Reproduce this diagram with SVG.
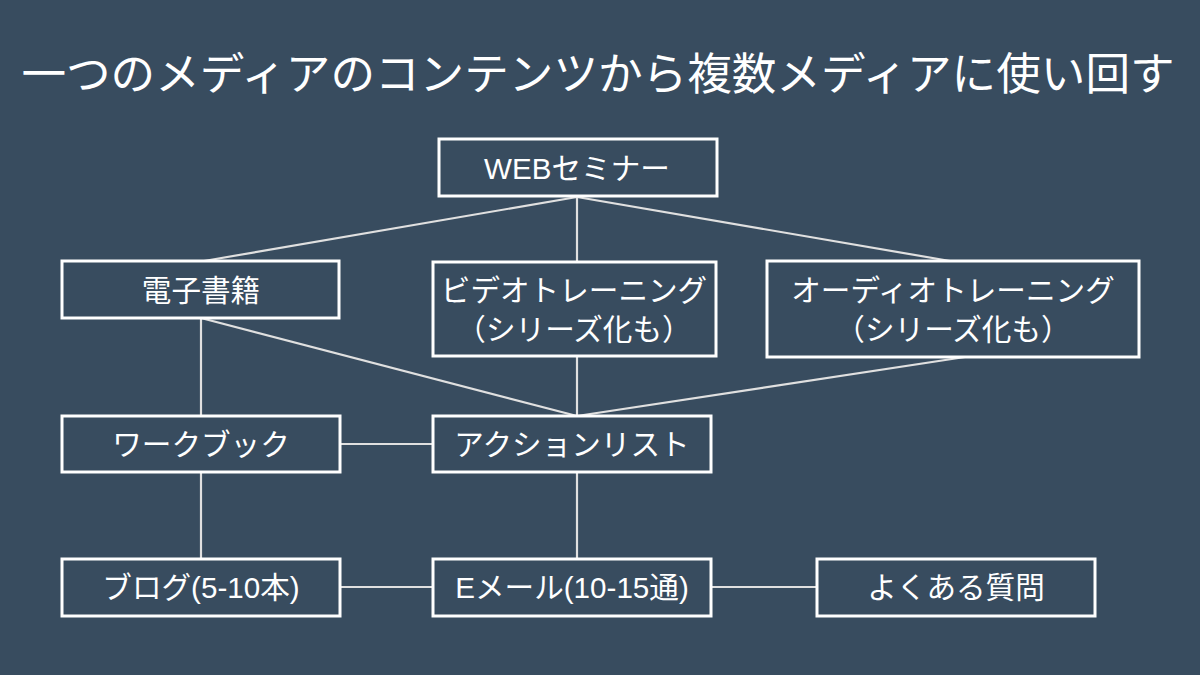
<svg xmlns="http://www.w3.org/2000/svg" width="1200" height="675" viewBox="0 0 1200 675">
<style>
.bg{fill:#384c5f}
.box{fill:none;stroke:#ffffff;stroke-width:3}
.lbl{fill:#ffffff;font-family:"Liberation Sans","Noto Sans CJK JP",sans-serif;font-size:29.6px;text-anchor:middle;dominant-baseline:central}
.title{fill:#ffffff;font-family:"Noto Sans CJK JP",sans-serif;font-size:44.6px;text-anchor:middle;dominant-baseline:central}
.conn line{stroke:#e0e0e0;stroke-width:2.2}
</style>
<rect class="bg" x="0" y="0" width="1200" height="675"/>
<text class="title" x="598" y="70">一つのメディアのコンテンツから複数メディアに使い回す</text>
<g id="connectors" class="conn">
<line x1="577" y1="197" x2="204" y2="261"/>
<line x1="577" y1="197" x2="577" y2="262"/>
<line x1="577" y1="197" x2="950" y2="261"/>
<line x1="201" y1="318" x2="201" y2="416"/>
<line x1="201" y1="318" x2="577" y2="416"/>
<line x1="577" y1="356" x2="577" y2="416"/>
<line x1="965" y1="357" x2="577" y2="416"/>
<line x1="340" y1="444" x2="433" y2="444"/>
<line x1="201" y1="472" x2="201" y2="559"/>
<line x1="577" y1="472" x2="577" y2="559"/>
<line x1="340" y1="587" x2="433" y2="587"/>
<line x1="711" y1="587" x2="817" y2="587"/>
</g>
<g id="webinar"><rect class="box" x="439" y="139" width="278" height="57"/><text class="lbl" x="577" y="168">WEBセミナー</text></g>
<g id="ebook"><rect class="box" x="62" y="261" width="277" height="57"/><text class="lbl" x="201" y="290">電子書籍</text></g>
<g id="video"><rect class="box" x="433" y="262" width="283" height="94"/><text class="lbl" x="574" y="290">ビデオトレーニング</text><text class="lbl" x="574" y="329">（シリーズ化も）</text></g>
<g id="audio"><rect class="box" x="767" y="261" width="372" height="96"/><text class="lbl" x="953" y="290">オーディオトレーニング</text><text class="lbl" x="953" y="329">（シリーズ化も）</text></g>
<g id="workbook"><rect class="box" x="62" y="416" width="278" height="56"/><text class="lbl" x="201" y="444">ワークブック</text></g>
<g id="actionlist"><rect class="box" x="433" y="416" width="278" height="56"/><text class="lbl" x="572" y="444">アクションリスト</text></g>
<g id="blog"><rect class="box" x="62" y="559" width="278" height="57"/><text class="lbl" x="201" y="587">ブログ(5-10本)</text></g>
<g id="email"><rect class="box" x="433" y="559" width="278" height="57"/><text class="lbl" x="572" y="587">Eメール(10-15通)</text></g>
<g id="faq"><rect class="box" x="817" y="559" width="278" height="57"/><text class="lbl" x="956" y="587">よくある質問</text></g>
</svg>
